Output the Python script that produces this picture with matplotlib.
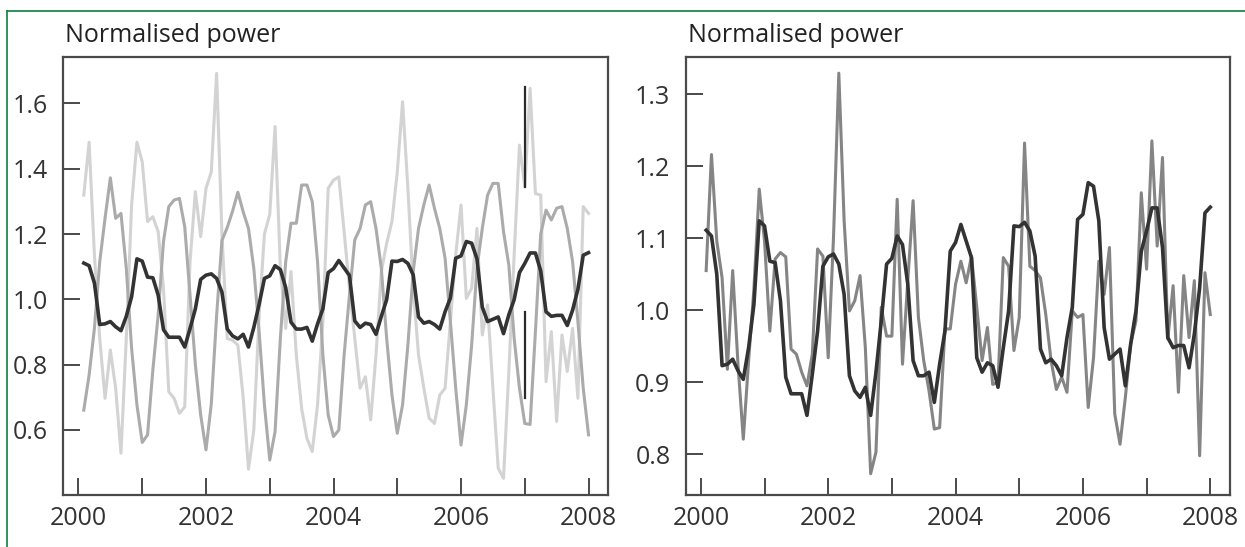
import numpy as np
import matplotlib
matplotlib.use("Agg")
import matplotlib.pyplot as plt
from matplotlib.lines import Line2D

# ---------------- data ----------------
months = 2000 + np.arange(1, 97) / 12.0

mean_power = [
    1.111, 1.103, 1.050, 0.923, 0.925, 0.932, 0.916, 0.904, 0.948, 1.008, 1.124, 1.117,
    1.068, 1.066, 1.013, 0.907, 0.884, 0.884, 0.884, 0.854, 0.911, 0.971, 1.061, 1.074,
    1.078, 1.064, 1.022, 0.909, 0.888, 0.879, 0.893, 0.854, 0.914, 0.985, 1.064, 1.072,
    1.103, 1.091, 1.036, 0.930, 0.909, 0.909, 0.914, 0.872, 0.925, 0.971, 1.082, 1.094,
    1.119, 1.096, 1.073, 0.934, 0.914, 0.927, 0.923, 0.893, 0.948, 0.999, 1.117, 1.116,
    1.122, 1.110, 1.075, 0.946, 0.927, 0.932, 0.923, 0.909, 0.962, 1.004, 1.126, 1.133,
    1.177, 1.172, 1.124, 0.976, 0.932, 0.939, 0.946, 0.895, 0.953, 0.999, 1.082, 1.110,
    1.142, 1.142, 1.087, 0.962, 0.948, 0.951, 0.951, 0.920, 0.967, 1.031, 1.135, 1.143,
]

region_a = [
    0.661, 0.768, 0.911, 1.115, 1.248, 1.372, 1.248, 1.263, 1.095, 0.850, 0.677, 0.562,
    0.585, 0.784, 0.952, 1.177, 1.284, 1.304, 1.309, 1.222, 1.013, 0.800, 0.646, 0.539,
    0.680, 0.950, 1.180, 1.220, 1.270, 1.328, 1.268, 1.217, 1.095, 0.901, 0.677, 0.508,
    0.595, 0.881, 1.115, 1.233, 1.233, 1.350, 1.350, 1.299, 1.115, 0.830, 0.646, 0.580,
    0.600, 0.830, 1.013, 1.182, 1.217, 1.289, 1.299, 1.217, 1.095, 0.881, 0.707, 0.590,
    0.677, 0.860, 1.085, 1.217, 1.289, 1.350, 1.279, 1.217, 1.126, 0.932, 0.728, 0.554,
    0.677, 0.860, 1.095, 1.217, 1.319, 1.355, 1.355, 1.207, 1.105, 0.881, 0.728, 0.620,
    0.617, 0.900, 1.200, 1.273, 1.243, 1.279, 1.284, 1.217, 1.115, 0.932, 0.728, 0.585,
]

region_b = [
    1.319, 1.481, 1.136, 0.881, 0.697, 0.845, 0.728, 0.529, 0.881, 1.289, 1.481, 1.421,
    1.238, 1.253, 1.207, 1.034, 0.717, 0.697, 0.651, 0.671, 1.115, 1.330, 1.192, 1.340,
    1.390, 1.692, 1.200, 0.880, 0.875, 0.860, 0.700, 0.480, 0.600, 0.950, 1.200, 1.260,
    1.529, 1.095, 0.911, 1.085, 0.830, 0.666, 0.574, 0.534, 0.677, 0.932, 1.340, 1.365,
    1.375, 1.207, 1.034, 0.881, 0.728, 0.763, 0.631, 0.830, 1.085, 1.171, 1.238, 1.390,
    1.605, 1.340, 1.034, 0.830, 0.728, 0.636, 0.620, 0.707, 0.728, 0.932, 1.136, 1.289,
    1.003, 1.034, 1.217, 0.891, 0.983, 0.728, 0.483, 0.452, 0.779, 1.136, 1.472, 1.345,
    1.646, 1.324, 1.319, 0.748, 0.901, 0.626, 0.891, 0.779, 0.911, 0.697, 1.284, 1.263,
]

region_c = [
    1.055, 1.216, 1.096, 1.045, 0.918, 1.055, 0.925, 0.821, 0.930, 1.030, 1.168, 1.096,
    0.971, 1.071, 1.080, 1.074, 0.946, 0.939, 0.914, 0.895, 0.939, 1.085, 1.075, 0.934,
    1.101, 1.329, 1.124, 0.999, 1.013, 1.048, 0.948, 0.773, 0.803, 1.004, 0.964, 0.964,
    1.154, 0.925, 1.041, 1.152, 0.990, 0.930, 0.888, 0.835, 0.837, 0.974, 0.974, 1.036,
    1.068, 1.038, 1.075, 1.004, 0.930, 0.976, 0.897, 0.900, 1.073, 1.061, 0.944, 0.990,
    1.232, 1.061, 1.055, 1.045, 0.994, 0.930, 0.890, 0.907, 0.886, 0.999, 0.990, 0.994,
    0.865, 0.934, 1.068, 1.022, 1.087, 0.856, 0.814, 0.879, 0.953, 0.985, 1.163, 1.057,
    1.235, 1.089, 1.212, 0.960, 1.034, 0.886, 1.048, 0.962, 1.041, 0.798, 1.052, 0.994,
]

# vertical range marks at 2007 (left panel)
range_x = 2007.0
range_low = [0.697, 0.962]
range_high = [1.345, 1.651]

year_ticks = [2000, 2001, 2002, 2003, 2004, 2005, 2006, 2007, 2008]
year_labels = ["2000", "", "2002", "", "2004", "", "2006", "", "2008"]
left_yticks = [0.6, 0.8, 1.0, 1.2, 1.4, 1.6]
right_yticks = [0.8, 0.9, 1.0, 1.1, 1.2, 1.3]
title_text = "Normalised power"

# ---------------- style ----------------
plt.rcParams['font.family'] = ['Open Sans', 'DejaVu Sans']
W, H = 1245, 547
fig = plt.figure(figsize=(W / 100, H / 100), dpi=100)
fig.patch.set_facecolor("white")

spine_c = "#4a4a4a"
label_c = "#333333"


def style_axes(ax, ylim, yticks):
    ax.set_xlim(1999.762, 2008.31)
    ax.set_ylim(*ylim)
    ax.set_xticks(year_ticks)
    ax.set_xticklabels(year_labels)
    ax.set_yticks(yticks)
    ax.set_yticklabels([f"{v:.1f}" for v in yticks])
    for s in ax.spines.values():
        s.set_color(spine_c)
        s.set_linewidth(1.6)
    ax.tick_params(direction="in", length=12, width=1.4, color=spine_c,
                   labelsize=18, labelcolor=label_c)
    ax.tick_params(axis="y", pad=11)
    ax.tick_params(axis="x", pad=8)
    ax.tick_params(top=False, right=False)


# left panel
ax1 = fig.add_axes([63.3 / W, 1 - 495 / H, 545 / W, 437.7 / H])
ax1.plot(months, region_b, color="#d3d3d3", lw=2.2)
ax1.plot(months, region_a, color="#ababab", lw=2.2)
ax1.plot(months, mean_power, color="#333333", lw=2.6)
ax1.plot([range_x, range_x], range_low, color="#2a2a2a", lw=1.6)
ax1.plot([range_x, range_x], range_high, color="#2a2a2a", lw=1.6)
style_axes(ax1, (0.401, 1.741), left_yticks)

# right panel
ax2 = fig.add_axes([685.7 / W, 1 - 495 / H, 544.3 / W, 437.7 / H])
ax2.plot(months, region_c, color="#858585", lw=2.2)
ax2.plot(months, mean_power, color="#333333", lw=2.6)
style_axes(ax2, (0.7435, 1.351), right_yticks)

# titles
fig.text(65 / W, 1 - 42 / H, title_text, fontsize=18, color="#222222",
         ha="left", va="baseline")
fig.text(688 / W, 1 - 42 / H, title_text, fontsize=18, color="#222222",
         ha="left", va="baseline")

# green frame (left and top edges)
green = "#1e8a4c"
fig.add_artist(Line2D([7.3 / W, 7.3 / W], [0, 1 - 11 / H], transform=fig.transFigure,
                      color=green, lw=1.3))
fig.add_artist(Line2D([7.3 / W, 1], [1 - 11 / H, 1 - 11 / H], transform=fig.transFigure,
                      color=green, lw=1.3))

fig.savefig("out.png", dpi=100, facecolor="white")
